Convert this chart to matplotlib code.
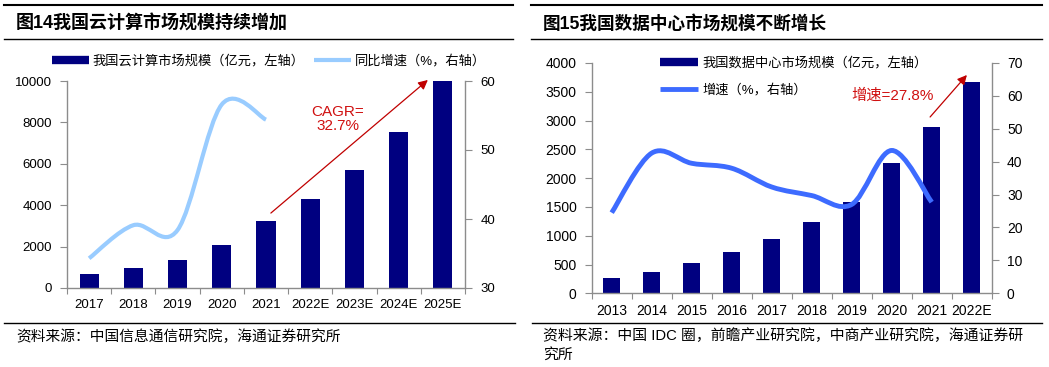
import matplotlib
matplotlib.use("Agg")
import matplotlib.pyplot as plt
from matplotlib.lines import Line2D
from matplotlib.path import Path
from matplotlib.patches import PathPatch
import numpy as np

plt.rcParams['font.family'] = ['Liberation Sans', 'Noto Sans CJK SC', 'DejaVu Sans']

# ---- data: figure 14 (cloud computing) ----
years_cloud = ['2017', '2018', '2019', '2020', '2021', '2022E', '2023E', '2024E', '2025E']
cloud_size = [692, 963, 1334, 2091, 3229, 4300, 5700, 7560, 10000]
cloud_growth = [34.3, 39.1, 38.4, 56.6, 54.4]          # 2017-2021

# ---- data: figure 15 (data center) ----
years_dc = ['2013', '2014', '2015', '2016', '2017', '2018', '2019', '2020', '2021', '2022E']
dc_size = [263, 372, 518, 715, 946, 1244, 1579, 2262, 2881, 3668]
dc_growth = [24.5, 42.6, 39.5, 38.0, 32.3, 29.7, 27.0, 43.4, 27.7]   # 2013-2021

NAVY = '#000080'
SPINE = '#8c8c8c'
W, H = 1049, 367


def px(x, y):
    # pixel position -> figure fraction
    return x / W, 1 - y / H


def smooth_path(xs, ys):
    # Excel-like smoothed line: cubic bezier through the points
    pts = np.column_stack([xs, ys]).astype(float)
    n = len(pts)
    verts = [pts[0]]
    codes = [Path.MOVETO]
    for i in range(n - 1):
        p0 = pts[i - 1] if i > 0 else pts[i]
        p1 = pts[i]
        p2 = pts[i + 1]
        p3 = pts[i + 2] if i + 2 < n else pts[i + 1]
        c1 = p1 + (p2 - p0) / 6.0
        c2 = p2 - (p3 - p1) / 6.0
        verts += [c1, c2, p2]
        codes += [Path.CURVE4] * 3
    return Path(verts, codes)


def style_axes(ax, ax2, ncat, fs):
    for a in (ax, ax2):
        a.spines['top'].set_visible(False)
        for s in ('left', 'right', 'bottom'):
            a.spines[s].set_color(SPINE)
            a.spines[s].set_linewidth(1)
    ax.spines['right'].set_visible(False)
    ax2.spines['left'].set_visible(False)
    ax2.spines['bottom'].set_visible(False)
    ax.tick_params(axis='y', direction='out', length=5, color=SPINE, labelsize=fs, pad=6)
    ax2.tick_params(axis='y', direction='out', length=5, color=SPINE, labelsize=fs, pad=6)
    ax.set_xlim(-0.5, ncat - 0.5)
    ax.set_xticks(np.arange(-0.5, ncat, 1.0))
    ax.set_xticklabels([])
    ax.tick_params(axis='x', which='major', direction='out', length=4, color=SPINE)
    ax.set_xticks(np.arange(ncat), minor=True)
    ax.tick_params(axis='x', which='minor', length=0, labelsize=fs, pad=8)


fig = plt.figure(figsize=(W / 100, H / 100), dpi=100)

# frame lines
for (x0, x1, y, lw) in [(4, 513, 5, 1.5), (4, 513, 39, 1.0), (4, 515, 323, 1.0),
                        (531, 1042, 5, 1.5), (531, 1042, 39, 1.0), (532, 1042, 323, 1.0)]:
    xa, ya = px(x0, y)
    xb, _ = px(x1, y)
    fig.add_artist(Line2D([xa, xb], [ya, ya], color='black', lw=lw))

fig.text(*px(16, 24), '图14我国云计算市场规模持续增加', fontsize=13, fontweight='bold',
         va='center', ha='left')
fig.text(*px(543, 24), '图15我国数据中心市场规模不断增长', fontsize=12.7, fontweight='bold',
         va='center', ha='left')
fig.text(*px(16, 337), '资料来源：中国信息通信研究院，海通证券研究所', fontsize=10.6,
         va='center', ha='left')
fig.text(*px(543, 328), '资料来源：中国 IDC 圈，前瞻产业研究院，中商产业研究院，海通证券研\n究所',
         fontsize=10.7, va='top', ha='left', linespacing=1.45)

# ================= left chart =================
l0, b0 = px(67, 288)
l1, t0 = px(465, 81)
ax = fig.add_axes([l0, b0, l1 - l0, t0 - b0])
ax2 = ax.twinx()
x = np.arange(len(years_cloud))
ax.bar(x, cloud_size, width=0.43, color=NAVY, zorder=2)
ax.set_ylim(0, 10000)
ax.set_yticks(range(0, 10001, 2000))
ax2.set_ylim(30, 60)
ax2.set_yticks([30, 40, 50, 60])
ax2.add_patch(PathPatch(smooth_path(np.arange(len(cloud_growth)), cloud_growth),
                        facecolor='none', edgecolor='#99ccff', lw=3, capstyle='butt'))
style_axes(ax, ax2, len(years_cloud), 9.5)
ax.set_xticklabels(years_cloud, minor=True)

ax.annotate('', xy=(7.66, 10050), xytext=(4.11, 3620), annotation_clip=False,
            arrowprops=dict(arrowstyle='-|>', color='#c00000', lw=0.9, mutation_scale=14,
                            shrinkA=0, shrinkB=0))
ax.text(5.63, 8150, 'CAGR=\n32.7%', color='#d01010', fontsize=11, ha='center', va='center',
        linespacing=1.0, multialignment='center')

leg_handles = [Line2D([], [], color=NAVY, lw=6, solid_capstyle='butt'),
               Line2D([], [], color='#99ccff', lw=3, solid_capstyle='butt')]
fig.legend(leg_handles, ['我国云计算市场规模（亿元，左轴）', '同比增速（%，右轴）'],
           loc='center left', bbox_to_anchor=px(52, 61), ncol=2, frameon=False,
           fontsize=9.5, handlelength=2.8, handletextpad=0.3, columnspacing=0.7,
           borderpad=0, borderaxespad=0)

# ================= right chart =================
l0, b0 = px(591.7, 293.3)
l1, t0 = px(991.7, 62.9)
bx = fig.add_axes([l0, b0, l1 - l0, t0 - b0])
bx2 = bx.twinx()
x = np.arange(len(years_dc))
bx.bar(x, dc_size, width=0.43, color=NAVY, zorder=2)
bx.set_ylim(0, 4000)
bx.set_yticks(range(0, 4001, 500))
bx2.set_ylim(0, 70)
bx2.set_yticks(range(0, 71, 10))
bx2.add_patch(PathPatch(smooth_path(np.arange(len(dc_growth)), dc_growth),
                        facecolor='none', edgecolor='#3d6bff', lw=3.5, capstyle='butt'))
style_axes(bx, bx2, len(years_dc), 10)
bx.set_xticklabels(years_dc, minor=True)

bx.annotate('', xy=(8.88, 3790), xytext=(7.96, 3061), annotation_clip=False,
            arrowprops=dict(arrowstyle='-|>', color='#c00000', lw=0.9, mutation_scale=14,
                            shrinkA=0, shrinkB=0))
bx.text(7.03, 3425, '增速=27.8%', color='#d01010', fontsize=11, ha='center', va='center')

leg_handles = [Line2D([], [], color=NAVY, lw=6, solid_capstyle='butt'),
               Line2D([], [], color='#3d6bff', lw=3.5, solid_capstyle='butt')]
fig.legend(leg_handles, ['我国数据中心市场规模（亿元，左轴）', '增速（%，右轴）'],
           loc='center left', bbox_to_anchor=px(660, 76.5), ncol=1, frameon=False,
           fontsize=9.5, handlelength=2.9, handletextpad=0.35, labelspacing=1.1,
           borderpad=0, borderaxespad=0)

fig.savefig('out.png', dpi=100)
